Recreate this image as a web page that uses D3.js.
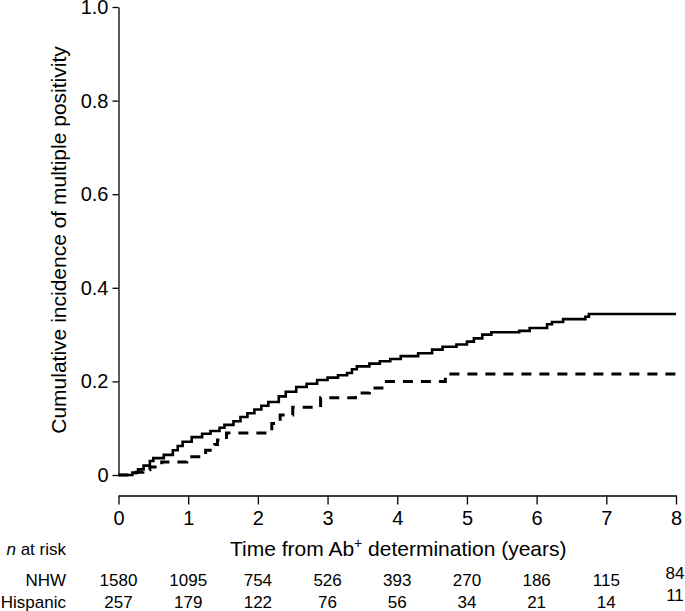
<!DOCTYPE html>
<html>
<head>
<meta charset="utf-8">
<script src="https://cdn.jsdelivr.net/npm/d3@7"></script>
<style>
  body { margin: 0; background: #fff; }
  svg { display: block; font-family: "Liberation Sans", Arial, Helvetica, sans-serif; }
  text { fill: #000; }
</style>
</head>
<body>
<svg id="chart" width="685" height="611"></svg>
<script>
// ---- Data ----
const xTicks = [0, 1, 2, 3, 4, 5, 6, 7, 8];
const yTicks = [0, 0.2, 0.4, 0.6, 0.8, 1.0];
const yTickLabels = ["0", "0.2", "0.4", "0.6", "0.8", "1.0"];

// NHW (solid) cumulative incidence step points: [time, value]
const nhwTime = [0, 0.17, 0.2, 0.28, 0.36, 0.45, 0.5, 0.65, 0.78, 0.85, 0.92, 1.05, 1.2, 1.32, 1.45, 1.52, 1.65, 1.75, 1.85, 1.95, 2.05, 2.15, 2.3, 2.4, 2.55, 2.7, 2.85, 3.0, 3.15, 3.28, 3.35, 3.42, 3.6, 3.75, 3.9, 4.05, 4.3, 4.5, 4.65, 4.85, 5.0, 5.1, 5.22, 5.35, 5.75, 5.9, 6.15, 6.22, 6.38, 6.7, 6.75, 8.0];
const nhwValue = [0, 0, 0.005, 0.012, 0.02, 0.03, 0.036, 0.043, 0.053, 0.062, 0.071, 0.081, 0.088, 0.094, 0.101, 0.107, 0.115, 0.124, 0.132, 0.14, 0.148, 0.156, 0.168, 0.178, 0.188, 0.195, 0.203, 0.208, 0.213, 0.218, 0.226, 0.232, 0.238, 0.243, 0.248, 0.254, 0.26, 0.268, 0.274, 0.279, 0.285, 0.292, 0.3, 0.305, 0.308, 0.314, 0.322, 0.327, 0.333, 0.338, 0.344, 0.344];

// Hispanic (dashed)
const hispTime = [0, 0.25, 0.35, 0.45, 0.62, 0.98, 1.25, 1.38, 1.42, 1.55, 2.2, 2.32, 2.5, 2.9, 3.4, 3.6, 3.78, 4.69, 8.0];
const hispValue = [0, 0.006, 0.011, 0.017, 0.028, 0.039, 0.053, 0.065, 0.075, 0.09, 0.11, 0.128, 0.145, 0.165, 0.175, 0.186, 0.2, 0.216, 0.216];

// Number at risk
const riskGroups = ["NHW", "Hispanic"];
const nhwRisk = [1580, 1095, 754, 526, 393, 270, 186, 115, 84];
const hispRisk = [257, 179, 122, 76, 56, 34, 21, 14, 11];

const xTitle = "Time from Ab";
const yTitle = "Cumulative incidence of multiple positivity";

// ---- Layout ----
const svg = d3.select("#chart");
const x = d3.scaleLinear().domain([0, 8]).range([118.5, 676]);
const y = d3.scaleLinear().domain([0, 1]).range([475, 7]);
const TICK_FS = 20;
const TABLE_FS = 17;
const TITLE_FS = 21;

// Y axis
const yAxis = d3.axisLeft(y).tickValues(yTicks).tickSize(6).tickSizeOuter(0).tickPadding(4)
  .tickFormat((d, i) => yTickLabels[i]);
const gy = svg.append("g").attr("transform", "translate(118.5,0)").call(yAxis);
gy.selectAll("path, line").attr("stroke", "#000").attr("stroke-width", 1.3);
gy.selectAll("text").attr("font-size", TICK_FS).attr("fill", "#000");
gy.attr("font-family", null);

// X axis (offset below)
const xAxis = d3.axisBottom(x).tickValues(xTicks).tickSize(9).tickSizeOuter(0).tickPadding(6)
  .tickFormat(d3.format("d"));
const gx = svg.append("g").attr("transform", "translate(0,495.5)").call(xAxis);
gx.selectAll("path, line").attr("stroke", "#000").attr("stroke-width", 1.3);
gx.selectAll("text").attr("font-size", TICK_FS).attr("fill", "#000");
gx.attr("font-family", null);

// Axis titles
const xt = svg.append("text").attr("x", x(4) + 1).attr("y", 556).attr("text-anchor", "middle")
  .attr("font-size", TITLE_FS);
xt.append("tspan").text(xTitle);
xt.append("tspan").attr("dy", -8).attr("font-size", 14).text("+");
xt.append("tspan").attr("dy", 8).text(" determination (years)");

svg.append("text").attr("transform", "translate(66,240) rotate(-90)")
  .attr("text-anchor", "middle").attr("font-size", TITLE_FS).text(yTitle);

// Curves
const line = d3.line().x(d => x(d[0])).y(d => y(d[1])).curve(d3.curveStepAfter);
const nhw = nhwTime.map((t, i) => [t, nhwValue[i]]);
const hisp = hispTime.map((t, i) => [t, hispValue[i]]);

svg.append("path").datum(hisp).attr("d", line).attr("fill", "none")
  .attr("stroke", "#000").attr("stroke-width", 3).attr("stroke-dasharray", "10,8");
svg.append("path").datum(nhw).attr("d", line).attr("fill", "none")
  .attr("stroke", "#000").attr("stroke-width", 2.6);

// Risk table
const nat = svg.append("text").attr("x", 66).attr("y", 555).attr("text-anchor", "end").attr("font-size", TABLE_FS);
nat.append("tspan").attr("font-style", "italic").text("n");
nat.append("tspan").text(" at risk");

const rows = [nhwRisk, hispRisk];
const rowY = [586, 608];
rows.forEach((vals, r) => {
  svg.append("text").attr("x", 66).attr("y", rowY[r]).attr("text-anchor", "end")
    .attr("font-size", TABLE_FS).text(riskGroups[r]);
  svg.selectAll(null).data(vals).enter().append("text")
    .attr("x", (d, i) => i === vals.length - 1 ? x(xTicks[i]) - 1 : x(xTicks[i]))
    .attr("y", (d, i) => i === vals.length - 1 ? rowY[r] - 7 : rowY[r])
    .attr("text-anchor", "middle").attr("font-size", TABLE_FS).text(d => d);
});
</script>
</body>
</html>
